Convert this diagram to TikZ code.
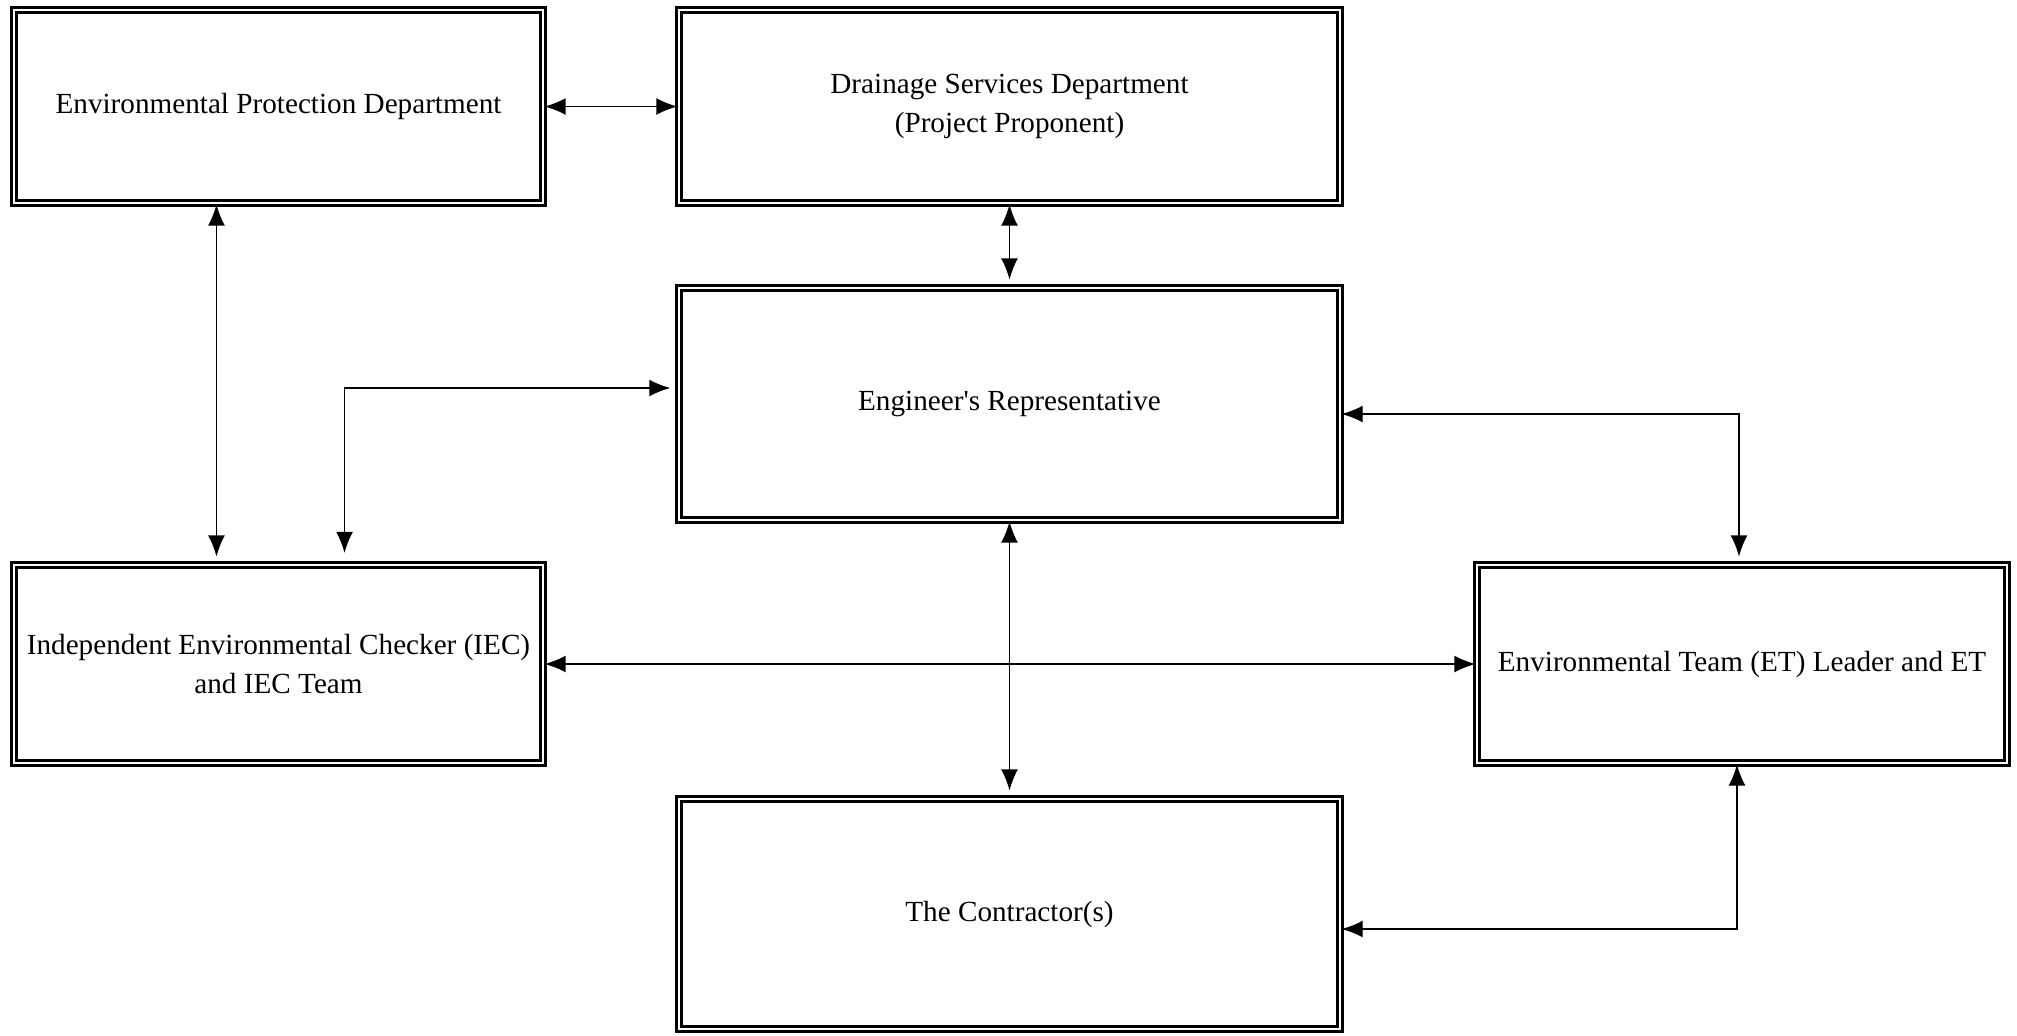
\documentclass[tikz,border=0pt]{standalone}
\usepackage{fontspec}
\setmainfont{Liberation Serif}
\usetikzlibrary{arrows.meta}

\tikzset{
	party/.style = {draw, double, line width = 0.8pt, double distance = 0.7pt, rectangle, align = center, inner sep = 2pt, font = \fontsize{8.3}{11}\selectfont},
	link/.style = {<->, line width = 0.4pt}
}

\begin{document}
\begin{tikzpicture}[> = {Latex[length = 6pt, width = 4.8pt]}, x = 0.01cm, y = -0.01cm]

	\useasboundingbox (0, 0) rectangle (2017, 1035);

	% Top row
	
	\node [party, minimum width = 5.29cm, minimum height = 1.93cm] (epd) at (278.5, 106.5) {Environmental Protection Department};
	\node [party, minimum width = 6.61cm, minimum height = 1.93cm] (dsd) at (1009.5, 106.5) {Drainage Services Department\\(Project Proponent)};

	% Middle
	
	\node [party, minimum width = 6.61cm, minimum height = 2.32cm] (er) at (1009.5, 404) {Engineer\textquotesingle s Representative};
	\node [party, minimum width = 5.29cm, minimum height = 1.98cm] (iec) at (278.5, 664) {Independent Environmental Checker (IEC)\\and IEC Team};
	\node [party, minimum width = 5.30cm, minimum height = 1.98cm] (et) at (1742, 664) {Environmental Team (ET) Leader and ET};

	% Bottom
	
	\node [party, minimum width = 6.61cm, minimum height = 2.30cm] (con) at (1009.5, 914) {The Contractor(s)};

	% Straight links
	
	\draw [link] (epd.east) -- (dsd.west);
	\draw [link, shorten > = 2pt] (dsd.south) -- (er.north);
	\draw [link, shorten > = 2pt] ([xshift = -0.62cm]epd.south) -- ([xshift = -0.62cm]iec.north);
	\draw [link] (iec.east) -- (et.west);
	\draw [link, shorten > = 2pt] (er.south) -- (con.north);

	% Elbow links
	
	\draw [link, shorten < = 3pt, shorten > = 2pt] ([xshift = 0.66cm]iec.north) |- ([yshift = 0.16cm]er.west);
	\draw [link, shorten > = 2pt] ([yshift = -0.1cm]er.east) -| ([xshift = -0.03cm]et.north);
	\draw [link] ([yshift = -0.15cm]con.east) -| ([xshift = -0.05cm]et.south);

\end{tikzpicture}
\end{document}
